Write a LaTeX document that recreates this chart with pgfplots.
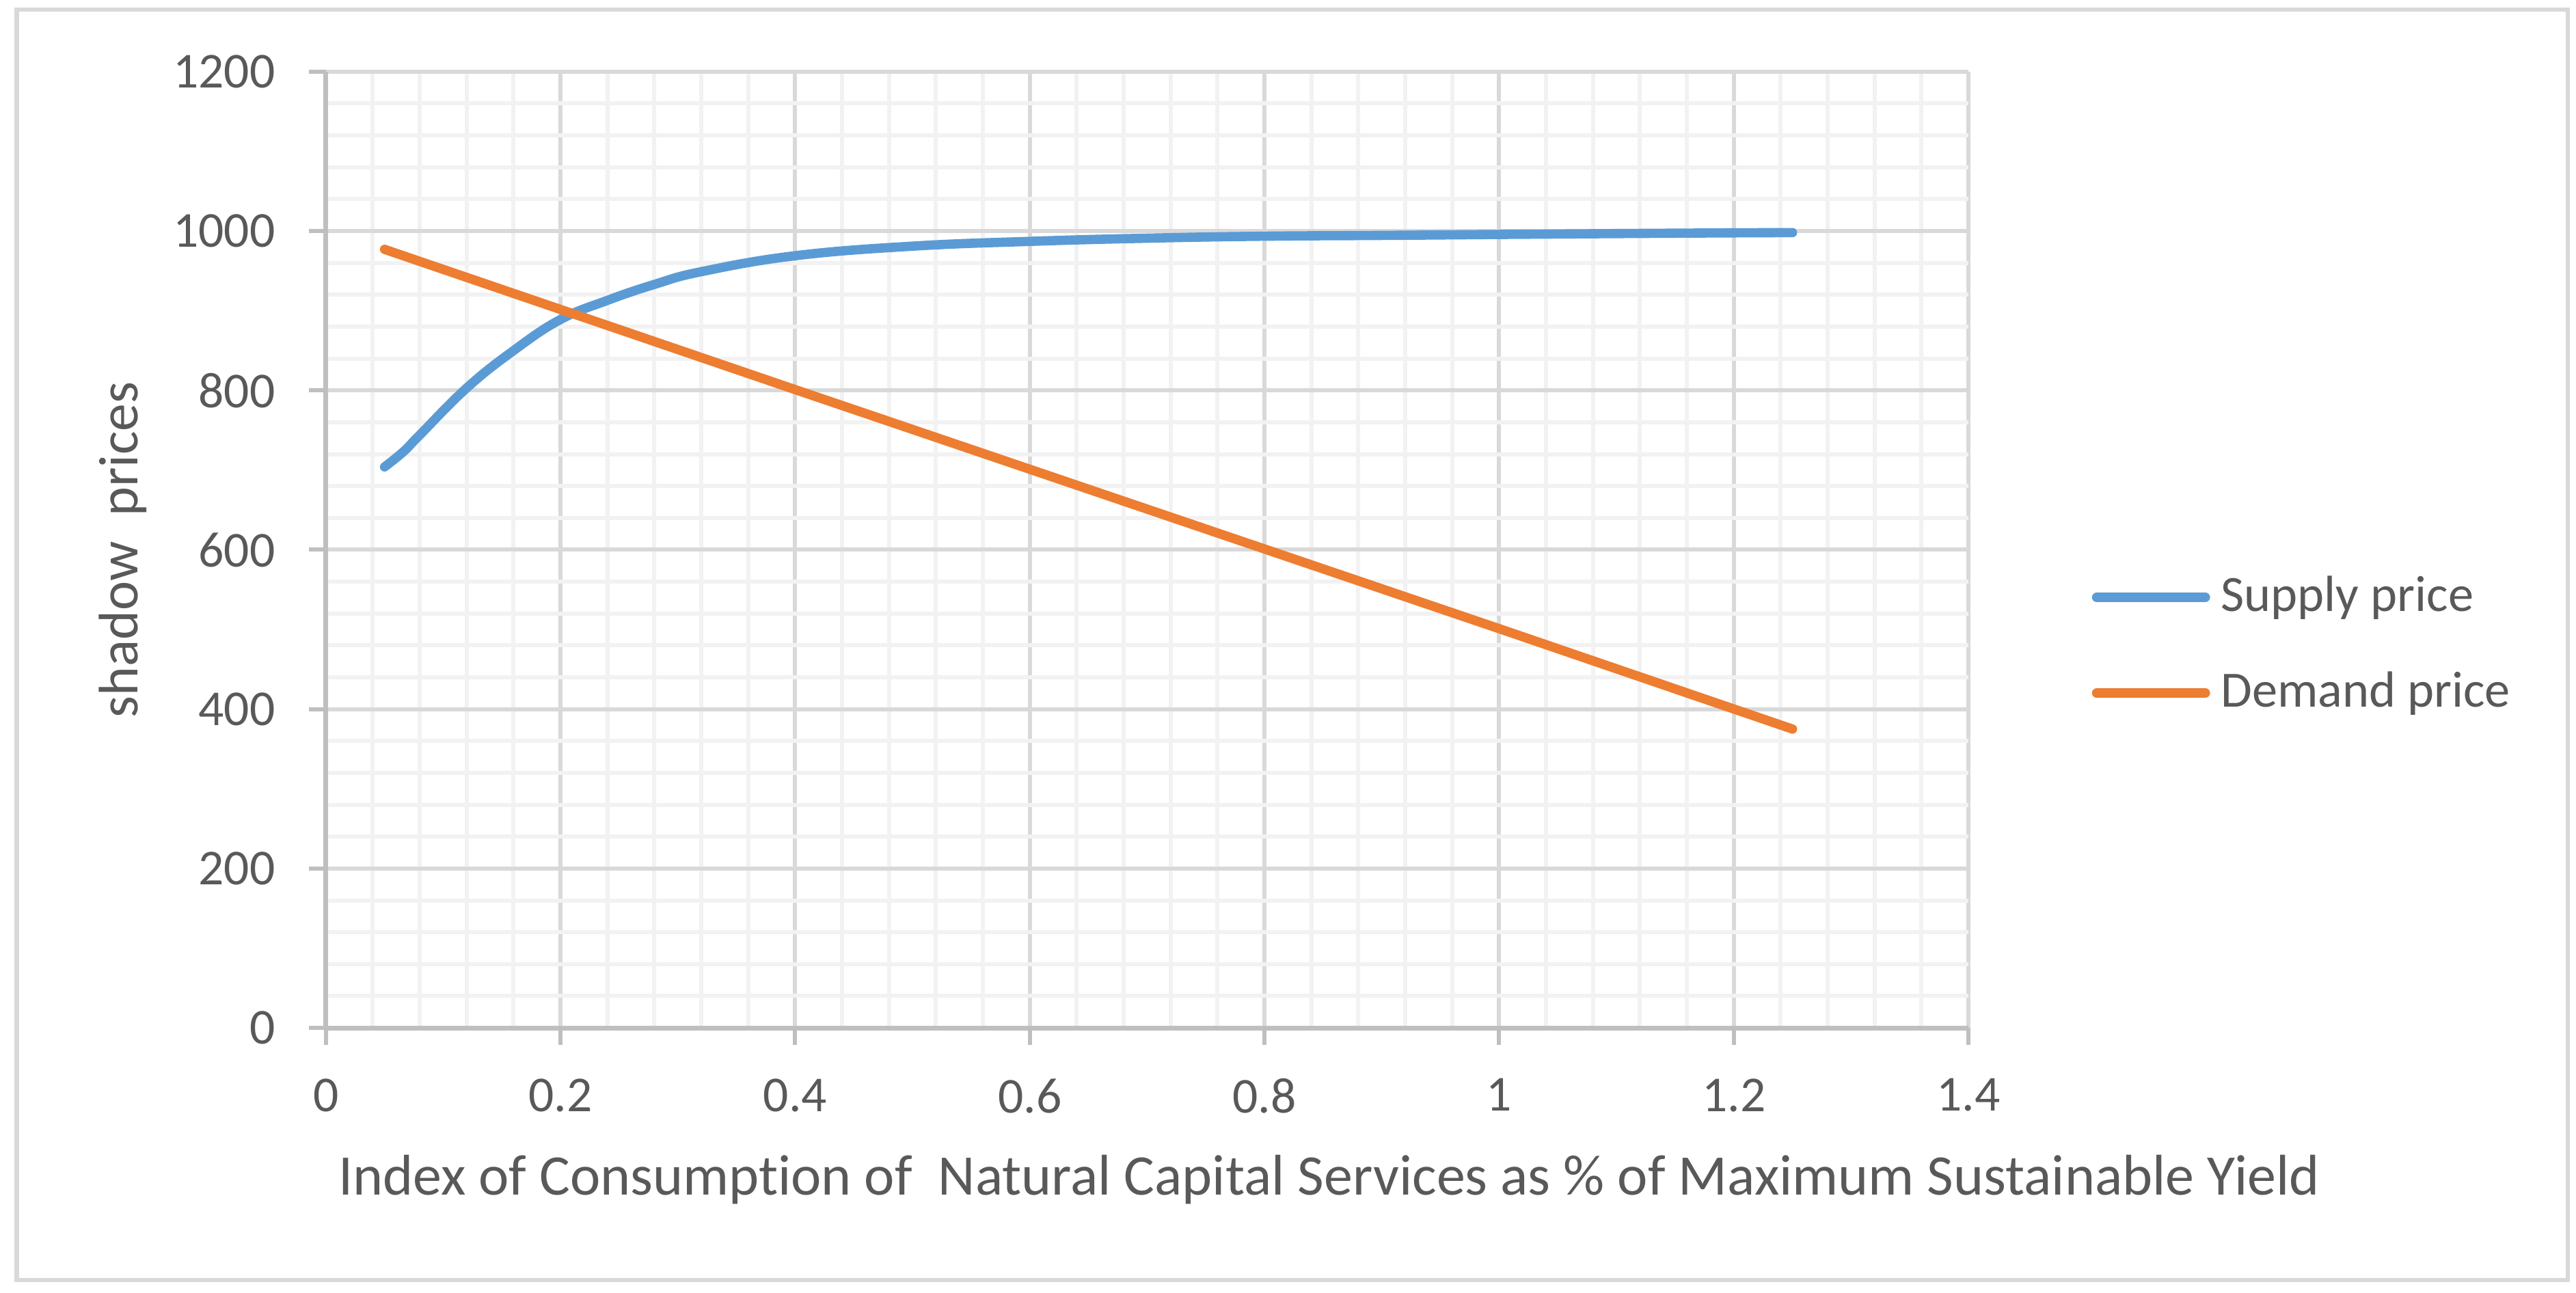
\documentclass[border=0pt]{standalone}
\usepackage{fontspec}
\setmainfont{Carlito}[Ligatures=NoCommon]
\usepackage{pgfplots}
\pgfplotsset{compat=1.18}
\definecolor{txt}{HTML}{595959}
\definecolor{spine}{HTML}{BFBFBF}
\definecolor{majgrid}{HTML}{D9D9D9}
\definecolor{mingrid}{HTML}{F2F2F2}
\definecolor{supplyc}{HTML}{5B9BD5}
\definecolor{demandc}{HTML}{ED7D31}
\begin{document}
\begin{tikzpicture}
\begin{axis}[
  at={(0pt,0pt)}, anchor=south west,
  scale only axis, width=300.4pt, height=174.9pt,
  xmin=0, xmax=1.4, ymin=0, ymax=1200,
  xtick={0,0.2,0.4,0.6,0.8,1,1.2,1.4},
  ytick={0,200,400,600,800,1000,1200},
  minor x tick num=4, minor y tick num=4,
  grid=both,
  major grid style={draw=majgrid, line width=0.75pt},
  minor grid style={draw=mingrid, line width=0.75pt},
  axis lines*=left,
  axis line style={draw=spine, line width=0.85pt, -},
  tick align=outside,
  major tick length=3.1pt, minor tick length=0pt,
  tick style={draw=spine, line width=0.75pt},
  /pgf/number format/.cd, 1000 sep={}, assume math mode=true, /pgfplots/.cd,
  tick label style={font=\fontsize{9.2}{11}\selectfont, text=txt},
  xticklabel style={inner sep=0pt, anchor=north, yshift=-6pt},
  yticklabel style={inner sep=0pt, anchor=east, xshift=-6pt},
  every axis x label/.style={at={(axis description cs:0.6108,-0.1744)}, anchor=base, font=\fontsize{10.5}{12}\selectfont, text=txt},
  every axis y label/.style={at={(axis description cs:-0.1235,0.5)}, anchor=center, rotate=90, font=\fontsize{10.2}{12}\selectfont, text=txt},
  xlabel={Index of Consumption of~ Natural Capital Services as \% of Maximum Sustainable Yield},
  ylabel={shadow~ prices},
  legend style={at={(axis description cs:1.0745,0.4002)}, anchor=west, draw=none, fill=none, inner sep=0pt, row sep=8.5pt,
    font=\fontsize{9.3}{11}\selectfont, text=txt,
    nodes={inner sep=0pt, text height=7pt, text depth=2pt}},
  legend cell align=left,
  /tikz/every odd column/.append style={column sep=2pt},
  legend image code/.code={\draw[#1, line cap=round] (0pt,0pt) -- (19.9pt,0pt);},
]
\addplot[color=supplyc, line width=1.7pt, line cap=round, line join=round, smooth, tension=0.7] coordinates {
(0.05,704) (0.066,723) (0.08,744) (0.12,803) (0.16,850) (0.2,889) (0.24,913) (0.28,933) (0.32,949)
(0.4,969) (0.5,981) (0.6,987) (0.7,991) (0.8,993.5) (0.9,994.5) (1.0,995.7) (1.1,996.8) (1.2,997.7) (1.25,998)
};
\addlegendentry{Supply price}
\addplot[color=demandc, line width=1.7pt, line cap=round, line join=round] coordinates {
(0.05,977) (0.4,801) (0.8,601) (1.0,501) (1.25,375)
};
\addlegendentry{Demand price}
\end{axis}
\draw[draw=majgrid, line width=0.85pt] (-56.5pt,-46.1pt) rectangle (410pt,186.25pt);
\pgfresetboundingbox
\path[use as bounding box] (-59.6pt,-48.4pt) rectangle (411.5pt,188pt);
\end{tikzpicture}
\end{document}
